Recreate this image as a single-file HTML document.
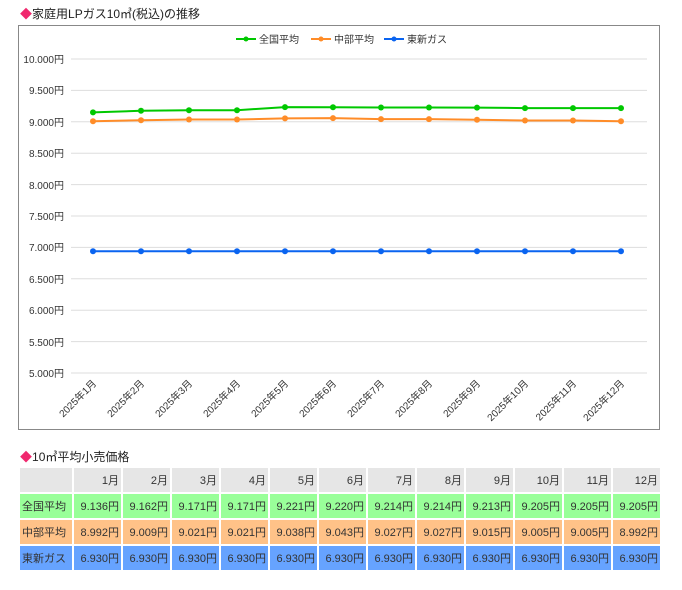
<!DOCTYPE html>
<html><head><meta charset="utf-8"><style>
body{margin:0;background:#fff;font-family:"Liberation Sans","Noto Sans CJK JP",sans-serif;color:#333;}
.t{position:absolute;left:20px;font-size:12px;color:#222;}
.d{color:#f0286e;}
table{position:absolute;left:18px;top:466px;border-collapse:collapse;font-size:11px;table-layout:fixed;width:642px;}
td{border:2px solid #fff;height:24px;padding:0 2px;text-align:right;overflow:hidden;white-space:nowrap;}
td.h{text-align:left;}
tr.a td{background:#e6e6e6}
tr.g td{background:#99ff99}
tr.o td{background:#ffc288}
tr.b td{background:#66a3ff}
</style></head><body>
<div class="t" style="top:5px"><span class="d">◆</span>家庭用LPガス10㎥(税込)の推移</div>
<svg style="position:absolute;left:0;top:0" width="682" height="440" font-family="Liberation Sans, Noto Sans CJK JP, sans-serif" font-size="10" fill="#333">
<rect x="18.5" y="25.5" width="641" height="404" fill="#fff" stroke="#888"/>
<g stroke="#ddd">
<line x1="71" x2="647" y1="59" y2="59"/><line x1="71" x2="647" y1="90.4" y2="90.4"/><line x1="71" x2="647" y1="121.8" y2="121.8"/><line x1="71" x2="647" y1="153.2" y2="153.2"/><line x1="71" x2="647" y1="184.6" y2="184.6"/><line x1="71" x2="647" y1="216" y2="216"/><line x1="71" x2="647" y1="247.4" y2="247.4"/><line x1="71" x2="647" y1="278.8" y2="278.8"/><line x1="71" x2="647" y1="310.2" y2="310.2"/><line x1="71" x2="647" y1="341.6" y2="341.6"/><line x1="71" x2="647" y1="373" y2="373"/>
</g>
<g text-anchor="end">
<text x="64" y="63">10.000円</text><text x="64" y="94">9.500円</text><text x="64" y="126">9.000円</text><text x="64" y="157">8.500円</text><text x="64" y="189">8.000円</text><text x="64" y="220">7.500円</text><text x="64" y="251">7.000円</text><text x="64" y="283">6.500円</text><text x="64" y="314">6.000円</text><text x="64" y="346">5.500円</text><text x="64" y="377">5.000円</text>
</g>
<g text-anchor="end" font-size="10">
<text transform="translate(97,384) rotate(-45)">2025年1月</text><text transform="translate(145,384) rotate(-45)">2025年2月</text><text transform="translate(193,384) rotate(-45)">2025年3月</text><text transform="translate(241,384) rotate(-45)">2025年4月</text><text transform="translate(289,384) rotate(-45)">2025年5月</text><text transform="translate(337,384) rotate(-45)">2025年6月</text><text transform="translate(385,384) rotate(-45)">2025年7月</text><text transform="translate(433,384) rotate(-45)">2025年8月</text><text transform="translate(481,384) rotate(-45)">2025年9月</text><text transform="translate(529,384) rotate(-45)">2025年10月</text><text transform="translate(577,384) rotate(-45)">2025年11月</text><text transform="translate(625,384) rotate(-45)">2025年12月</text>
</g>
<g stroke-width="2" fill="none">
<polyline stroke="#00c800" points="93,112.4 141,110.8 189,110.2 237,110.2 285,107.1 333,107.2 381,107.5 429,107.5 477,107.6 525,108.1 573,108.1 621,108.1"/>
<polyline stroke="#ff8c28" points="93,121.3 141,120.2 189,119.5 237,119.5 285,118.4 333,118.1 381,119.1 429,119.1 477,119.8 525,120.5 573,120.5 621,121.3"/>
<polyline stroke="#0a64f0" points="93,251.3 621,251.3"/>
</g>
<g fill="#00c800"><circle cx="93" cy="112.4" r="3"/><circle cx="141" cy="110.8" r="3"/><circle cx="189" cy="110.2" r="3"/><circle cx="237" cy="110.2" r="3"/><circle cx="285" cy="107.1" r="3"/><circle cx="333" cy="107.2" r="3"/><circle cx="381" cy="107.5" r="3"/><circle cx="429" cy="107.5" r="3"/><circle cx="477" cy="107.6" r="3"/><circle cx="525" cy="108.1" r="3"/><circle cx="573" cy="108.1" r="3"/><circle cx="621" cy="108.1" r="3"/></g>
<g fill="#ff8c28"><circle cx="93" cy="121.3" r="3"/><circle cx="141" cy="120.2" r="3"/><circle cx="189" cy="119.5" r="3"/><circle cx="237" cy="119.5" r="3"/><circle cx="285" cy="118.4" r="3"/><circle cx="333" cy="118.1" r="3"/><circle cx="381" cy="119.1" r="3"/><circle cx="429" cy="119.1" r="3"/><circle cx="477" cy="119.8" r="3"/><circle cx="525" cy="120.5" r="3"/><circle cx="573" cy="120.5" r="3"/><circle cx="621" cy="121.3" r="3"/></g>
<g fill="#0a64f0"><circle cx="93" cy="251.3" r="3"/><circle cx="141" cy="251.3" r="3"/><circle cx="189" cy="251.3" r="3"/><circle cx="237" cy="251.3" r="3"/><circle cx="285" cy="251.3" r="3"/><circle cx="333" cy="251.3" r="3"/><circle cx="381" cy="251.3" r="3"/><circle cx="429" cy="251.3" r="3"/><circle cx="477" cy="251.3" r="3"/><circle cx="525" cy="251.3" r="3"/><circle cx="573" cy="251.3" r="3"/><circle cx="621" cy="251.3" r="3"/></g>
<g stroke-width="2">
<line x1="236" x2="256" y1="39" y2="39" stroke="#00c800"/><circle cx="246" cy="39" r="2.5" fill="#00c800"/>
<line x1="311" x2="331" y1="39" y2="39" stroke="#ff8c28"/><circle cx="321" cy="39" r="2.5" fill="#ff8c28"/>
<line x1="384" x2="404" y1="39" y2="39" stroke="#0a64f0"/><circle cx="394" cy="39" r="2.5" fill="#0a64f0"/>
</g>
<text x="259" y="43">全国平均</text><text x="334" y="43">中部平均</text><text x="407" y="43">東新ガス</text>
</svg>
<div class="t" style="top:448px"><span class="d">◆</span>10㎥平均小売価格</div>
<table>
<colgroup><col style="width:54px"><col span="12" style="width:49px"></colgroup>
<tr class="a"><td class="h"></td><td>1月</td><td>2月</td><td>3月</td><td>4月</td><td>5月</td><td>6月</td><td>7月</td><td>8月</td><td>9月</td><td>10月</td><td>11月</td><td>12月</td></tr>
<tr class="g"><td class="h">全国平均</td><td>9.136円</td><td>9.162円</td><td>9.171円</td><td>9.171円</td><td>9.221円</td><td>9.220円</td><td>9.214円</td><td>9.214円</td><td>9.213円</td><td>9.205円</td><td>9.205円</td><td>9.205円</td></tr>
<tr class="o"><td class="h">中部平均</td><td>8.992円</td><td>9.009円</td><td>9.021円</td><td>9.021円</td><td>9.038円</td><td>9.043円</td><td>9.027円</td><td>9.027円</td><td>9.015円</td><td>9.005円</td><td>9.005円</td><td>8.992円</td></tr>
<tr class="b"><td class="h">東新ガス</td><td>6.930円</td><td>6.930円</td><td>6.930円</td><td>6.930円</td><td>6.930円</td><td>6.930円</td><td>6.930円</td><td>6.930円</td><td>6.930円</td><td>6.930円</td><td>6.930円</td><td>6.930円</td></tr>
</table>
</body></html>
